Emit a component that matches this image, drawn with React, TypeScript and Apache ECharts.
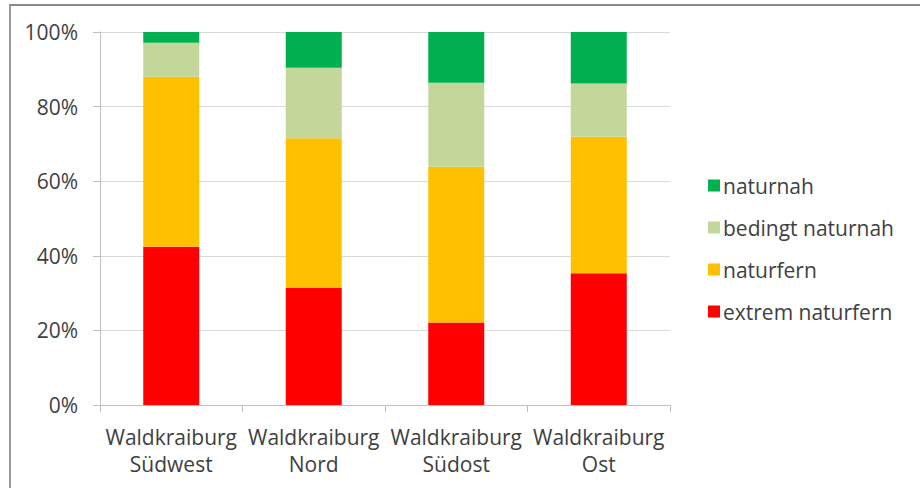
import React, { useEffect, useRef } from "react";
import * as echarts from "echarts";

const categories = ["Waldkraiburg\nSüdwest", "Waldkraiburg\nNord", "Waldkraiburg\nSüdost", "Waldkraiburg\nOst"];
const extremNaturfern = [42.4, 31.4, 22.1, 35.3];
const naturfern = [45.6, 40.1, 41.8, 36.6];
const bedingtNaturnah = [9.1, 18.9, 22.5, 14.3];
const naturnah = [2.9, 9.6, 13.6, 13.8];
const legendOrder = ["naturnah", "bedingt naturnah", "naturfern", "extrem naturfern"];

const FONT = "'Open Sans', sans-serif";
const TEXT = "#3f3f3f";

export default function App() {
  const ref = useRef<HTMLDivElement>(null);
  useEffect(() => {
    if (!ref.current) return;
    const chart = echarts.init(ref.current, undefined, { renderer: "svg" });
    const mk = (name: string, data: number[], color: string) => ({
      name,
      type: "bar",
      stack: "total",
      data,
      barWidth: 56,
      itemStyle: { color },
      emphasis: { disabled: true },
    });
    chart.setOption({
      animation: false,
      textStyle: { fontFamily: FONT },
      grid: { left: 100, right: 250, top: 32, bottom: 83, containLabel: false },
      legend: {
        orient: "vertical",
        left: 703,
        top: 166,
        itemWidth: 12,
        itemHeight: 12,
        itemGap: 13,
        icon: "rect",
        data: legendOrder,
        textStyle: { fontSize: 21, color: TEXT, fontFamily: FONT, fontWeight: 500, padding: [0, 0, 0, -2], lineHeight: 29 },
        selectedMode: false,
      },
      xAxis: {
        type: "category",
        data: categories,
        axisLine: { lineStyle: { color: "#bfbfbf", width: 1 } },
        axisTick: { show: true, length: 7, alignWithLabel: false, lineStyle: { color: "#bfbfbf" } },
        axisLabel: { interval: 0, fontSize: 21, fontWeight: 500, color: TEXT, lineHeight: 27, margin: 18, fontFamily: FONT },
      },
      yAxis: {
        type: "value",
        min: 0,
        max: 100,
        interval: 20,
        axisLine: { show: true, lineStyle: { color: "#bfbfbf", width: 1 } },
        axisTick: { show: true, length: 7, lineStyle: { color: "#bfbfbf" } },
        axisLabel: { formatter: "{value}%", fontSize: 21, fontWeight: 500, color: TEXT, margin: 22, fontFamily: FONT },
        splitLine: { lineStyle: { color: "#d9d9d9", width: 1 } },
      },
      series: [
        mk("extrem naturfern", extremNaturfern, "#FF0000"),
        mk("naturfern", naturfern, "#FFC000"),
        mk("bedingt naturnah", bedingtNaturnah, "#C4D79B"),
        mk("naturnah", naturnah, "#00B050"),
      ],
    });
    return () => chart.dispose();
  }, []);
  return (
    <div style={{ position: "fixed", left: 0, top: 0, width: 920, height: 488, background: "#fff", overflow: "hidden" }}>
      <div style={{ position: "absolute", left: 9, top: 4, width: 940, height: 520, borderLeft: "2px solid #9a9a9a", borderTop: "2px solid #8a8a8a", boxSizing: "border-box" }} />
      <div ref={ref} style={{ position: "absolute", left: 0, top: 0, width: 920, height: 488 }} />
    </div>
  );
}
